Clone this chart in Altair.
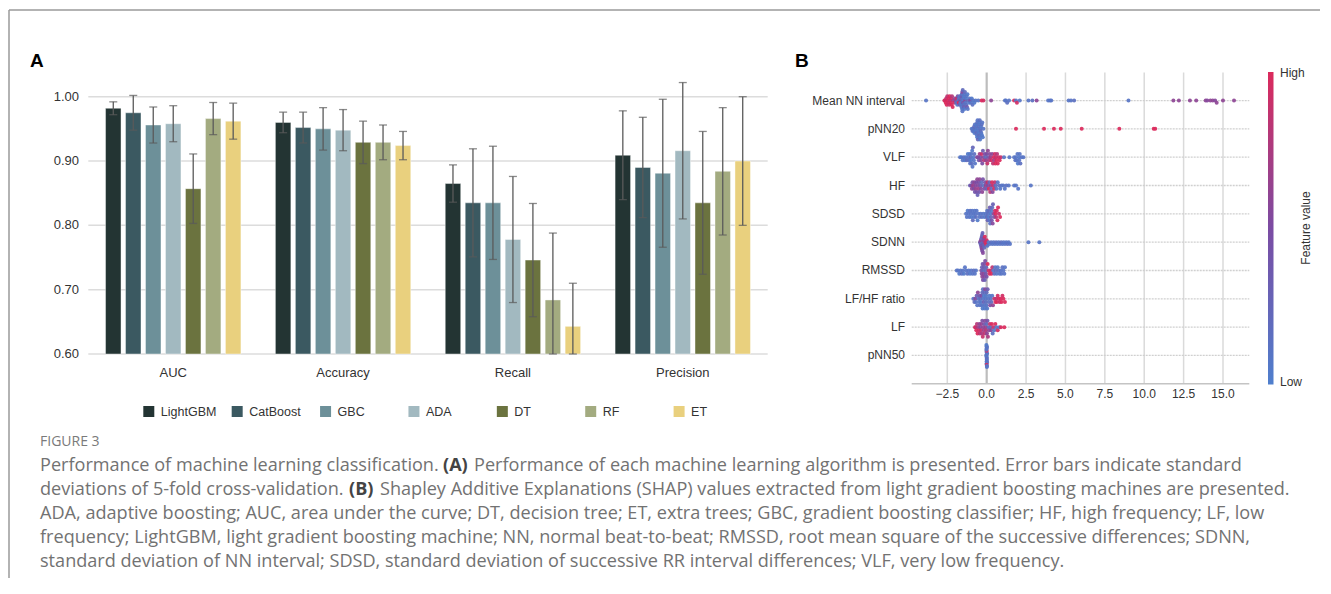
import altair as alt
import numpy as np
import pandas as pd

# ------------------------------------------------------------------ data A
metrics = ["AUC", "Accuracy", "Recall", "Precision"]
models = ["LightGBM", "CatBoost", "GBC", "ADA", "DT", "RF", "ET"]
model_colors = ["#233433", "#3b5961", "#6d9099", "#a2b9c0", "#6b733f", "#a3ab80", "#e9d07e"]

auc_mean = [0.982, 0.975, 0.956, 0.958, 0.857, 0.966, 0.962]
auc_sd = [0.010, 0.027, 0.028, 0.028, 0.054, 0.025, 0.028]
acc_mean = [0.960, 0.952, 0.950, 0.948, 0.929, 0.929, 0.924]
acc_sd = [0.016, 0.024, 0.033, 0.032, 0.033, 0.027, 0.022]
rec_mean = [0.865, 0.835, 0.835, 0.778, 0.746, 0.684, 0.643]
rec_sd = [0.029, 0.084, 0.088, 0.098, 0.088, 0.104, 0.067]
prec_mean = [0.909, 0.890, 0.881, 0.916, 0.835, 0.884, 0.900]
prec_sd = [0.069, 0.078, 0.115, 0.106, 0.111, 0.099, 0.100]
a_yticks = [0.60, 0.70, 0.80, 0.90, 1.00]

# ------------------------------------------------------------------ data B
features = ["Mean NN interval", "pNN20", "VLF", "HF", "SDSD",
            "SDNN", "RMSSD", "LF/HF ratio", "LF", "pNN50"]
b_xticks = [-2.5, 0.0, 2.5, 5.0, 7.5, 10.0, 12.5, 15.0]

# (SHAP value, normalised feature value)
mean_nn_interval = [
    (-3.85, 0.10),
    (-2.68, 1.0), (-2.64, 0.95), (-2.60, 1.0), (-2.57, 0.90), (-2.54, 1.0), (-2.50, 0.85), (-2.47, 1.0),
    (-2.44, 0.95), (-2.41, 1.0), (-2.38, 0.90), (-2.35, 1.0), (-2.32, 0.85), (-2.29, 1.0), (-2.26, 0.95),
    (-2.23, 1.0), (-2.20, 0.80), (-2.16, 1.0), (-2.12, 0.70), (-2.07, 0.95), (-2.02, 0.60),
    (-1.97, 0.55), (-1.94, 0.20), (-1.90, 0.90), (-1.87, 0.10), (-1.84, 0.45), (-1.80, 0.15), (-1.78, 1.0), (-1.75, 0.10),
    (-1.72, 0.30), (-1.70, 0.05), (-1.68, 0.50), (-1.66, 0.10), (-1.64, 0.20), (-1.62, 0.05), (-1.60, 0.35), (-1.60, 0.10),
    (-1.58, 0.15), (-1.56, 0.05), (-1.55, 0.55), (-1.54, 0.10), (-1.52, 0.20), (-1.50, 0.05), (-1.50, 0.40), (-1.48, 0.10),
    (-1.46, 0.15), (-1.45, 0.05), (-1.44, 0.30), (-1.42, 0.10), (-1.40, 0.05), (-1.38, 0.20), (-1.36, 0.60), (-1.35, 0.10),
    (-1.32, 0.05), (-1.30, 0.15), (-1.28, 0.10), (-1.25, 0.35), (-1.22, 0.05), (-1.20, 0.10), (-1.16, 0.20), (-1.12, 0.05),
    (-1.08, 0.10), (-1.04, 0.50), (-1.00, 0.10), (-0.95, 0.05), (-0.90, 0.15), (-0.85, 0.10), (-0.78, 0.05), (-0.70, 0.10),
    (-0.53, 0.10), (-0.32, 1.0), (-0.21, 0.95), (0.28, 0.60), (1.16, 0.10), (1.22, 0.10), (1.30, 0.15), (1.42, 0.10),
    (1.74, 1.0), (1.86, 0.10), (1.92, 0.95), (2.10, 0.10), (2.65, 0.10), (2.90, 0.15), (3.17, 0.60), (3.90, 0.10),
    (4.02, 0.10), (4.10, 0.10), (5.20, 0.10), (5.35, 0.10), (5.55, 0.15), (9.00, 0.10), (11.85, 0.60), (12.20, 0.60),
    (12.90, 0.60), (13.30, 0.60), (13.90, 0.60), (14.00, 0.55), (14.20, 0.60), (14.35, 0.60), (14.50, 0.55), (14.60, 0.60),
    (15.00, 0.60), (15.70, 0.60),
]
pnn20 = [
    (-0.95, 0.10), (-0.90, 0.15), (-0.86, 0.05), (-0.82, 0.10), (-0.80, 0.20), (-0.78, 0.05), (-0.75, 0.10), (-0.72, 0.15),
    (-0.70, 0.05), (-0.68, 0.10), (-0.66, 0.20), (-0.64, 0.05), (-0.62, 0.10), (-0.60, 0.15), (-0.60, 0.05), (-0.58, 0.10),
    (-0.56, 0.25), (-0.55, 0.05), (-0.54, 0.10), (-0.52, 0.15), (-0.50, 0.05), (-0.50, 0.10), (-0.48, 0.20), (-0.46, 0.05),
    (-0.45, 0.10), (-0.44, 0.15), (-0.42, 0.05), (-0.40, 0.10), (-0.38, 0.20), (-0.36, 0.05), (-0.34, 0.10), (-0.32, 0.15),
    (-0.30, 0.05), (-0.28, 0.10), (-0.25, 0.05), (-0.21, 0.10),
    (1.86, 1.0), (3.64, 1.0), (4.27, 1.0), (4.70, 1.0), (6.03, 1.0), (8.42, 1.0), (10.60, 1.0), (10.70, 1.0),
]
vlf = [
    (-1.69, 0.10), (-1.60, 0.05), (-1.52, 0.10), (-1.45, 0.15), (-1.38, 0.05), (-1.32, 0.10), (-1.26, 0.20), (-1.20, 0.05),
    (-1.16, 0.10), (-1.12, 0.15), (-1.08, 0.05), (-1.05, 0.10), (-1.02, 0.20), (-1.00, 0.05), (-0.98, 0.10), (-0.95, 0.15),
    (-0.92, 0.05), (-0.90, 0.10), (-0.88, 0.25), (-0.85, 0.05), (-0.82, 0.10), (-0.78, 0.15), (-0.74, 0.10),
    (-0.62, 0.45), (-0.55, 0.55), (-0.50, 0.40), (-0.45, 0.70), (-0.40, 0.50), (-0.36, 0.60), (-0.32, 0.90), (-0.28, 0.50),
    (-0.24, 0.35), (-0.20, 0.60), (-0.16, 0.80), (-0.12, 0.50), (-0.08, 0.20), (-0.04, 0.65), (0.00, 0.50), (0.04, 0.90),
    (0.08, 0.60), (0.12, 0.40), (0.16, 0.75), (0.20, 0.55), (0.25, 0.70), (0.30, 0.95), (0.35, 0.60), (0.40, 0.85),
    (0.45, 1.0), (0.48, 0.70), (0.52, 0.95), (0.55, 1.0), (0.58, 0.90), (0.62, 1.0), (0.66, 0.80), (0.70, 1.0),
    (0.76, 0.95), (0.82, 1.0), (0.90, 0.90),
    (1.10, 0.10), (1.44, 0.10), (1.74, 0.10), (1.82, 0.15), (1.85, 0.10), (1.90, 0.10), (1.95, 0.10), (1.98, 0.05),
    (2.05, 0.05), (2.06, 0.10), (2.10, 0.10), (2.14, 0.15), (2.22, 0.10), (2.33, 0.10),
]
hf = [
    (-1.06, 0.30), (-0.98, 0.50), (-0.94, 0.60), (-0.90, 0.45), (-0.86, 0.70), (-0.82, 0.50), (-0.78, 0.60), (-0.75, 0.40),
    (-0.72, 0.55), (-0.70, 0.65), (-0.66, 0.50), (-0.63, 0.45), (-0.60, 0.60), (-0.58, 0.30), (-0.55, 0.55), (-0.52, 0.70),
    (-0.50, 0.50), (-0.47, 0.40), (-0.44, 0.60), (-0.40, 0.35), (-0.36, 0.55), (-0.32, 0.20), (-0.28, 0.60), (-0.24, 0.45),
    (-0.20, 0.15), (-0.15, 0.50), (-0.10, 0.40), (-0.05, 0.65), (0.00, 0.30), (0.05, 0.90), (0.10, 0.50), (0.14, 1.0),
    (0.18, 0.25), (0.22, 0.80), (0.26, 0.60), (0.30, 0.20), (0.34, 1.0), (0.38, 0.55), (0.42, 0.90), (0.48, 1.0),
    (0.52, 0.85), (0.56, 0.20), (0.62, 0.10), (0.70, 0.10), (0.78, 0.15), (0.86, 0.10), (0.95, 0.10), (1.05, 0.10),
    (1.15, 0.10), (1.25, 0.15), (1.40, 0.10), (1.74, 0.10), (1.86, 0.10), (2.00, 0.10), (2.80, 0.10),
]
sdsd = [
    (-1.31, 0.10), (-1.26, 0.10), (-1.21, 0.05), (-1.15, 0.10), (-1.10, 0.10), (-1.05, 0.15), (-1.00, 0.10), (-0.96, 0.05),
    (-0.92, 0.10), (-0.88, 0.20), (-0.84, 0.10), (-0.80, 0.05), (-0.76, 0.10), (-0.72, 0.10), (-0.68, 0.15), (-0.64, 0.10),
    (-0.58, 0.05), (-0.52, 0.10), (-0.45, 0.10), (-0.38, 0.10), (-0.30, 0.15), (-0.22, 0.10), (-0.14, 0.05), (-0.06, 0.10),
    (0.00, 0.20), (0.03, 0.10), (0.06, 0.30), (0.09, 0.15), (0.12, 0.05), (0.15, 0.20), (0.18, 0.10), (0.20, 0.35),
    (0.22, 0.15), (0.25, 0.05), (0.27, 0.25), (0.30, 0.10), (0.32, 0.40), (0.35, 0.20), (0.38, 0.55), (0.40, 0.30),
    (0.44, 0.60), (0.48, 0.45),
    (0.52, 0.90), (0.56, 1.0), (0.60, 0.85), (0.64, 1.0), (0.68, 0.95), (0.72, 1.0), (0.78, 0.90), (0.85, 1.0),
]
sdnn = [
    (-0.42, 0.30), (-0.40, 0.55), (-0.39, 0.20), (-0.37, 0.60), (-0.36, 0.40), (-0.34, 0.25), (-0.33, 0.50), (-0.31, 0.35),
    (-0.30, 0.60), (-0.29, 0.20), (-0.27, 0.45), (-0.26, 0.30), (-0.24, 0.55), (-0.23, 0.20), (-0.21, 0.40), (-0.20, 0.60),
    (-0.18, 0.30), (-0.17, 0.50), (-0.15, 0.25), (-0.12, 1.0), (-0.08, 0.90), (-0.04, 1.0), (0.00, 0.95),
    (0.05, 0.10), (0.12, 0.10), (0.20, 0.10), (0.28, 0.15), (0.36, 0.10), (0.44, 0.10), (0.52, 0.10), (0.60, 0.15),
    (0.68, 0.10), (0.76, 0.10), (0.84, 0.10), (0.92, 0.15), (1.00, 0.10), (1.08, 0.10), (1.16, 0.10), (1.24, 0.10),
    (1.32, 0.15), (1.40, 0.10), (1.48, 0.10), (2.65, 0.10), (3.34, 0.10),
]
rmssd = [
    (-1.90, 0.10), (-1.82, 0.10), (-1.74, 0.05), (-1.66, 0.10), (-1.58, 0.15), (-1.50, 0.10), (-1.44, 0.05), (-1.38, 0.10),
    (-1.30, 0.10), (-1.22, 0.15), (-1.14, 0.10), (-1.06, 0.05), (-0.98, 0.10), (-0.90, 0.10), (-0.82, 0.15), (-0.75, 0.10),
    (-0.68, 0.10),
    (-0.34, 0.45), (-0.32, 0.55), (-0.30, 0.30), (-0.28, 0.60), (-0.26, 0.40), (-0.24, 0.50), (-0.22, 0.25), (-0.20, 0.60),
    (-0.18, 0.35), (-0.16, 0.55), (-0.14, 0.45), (-0.12, 0.30), (-0.10, 0.50), (-0.08, 0.20), (-0.06, 0.40), (-0.03, 0.25),
    (0.00, 0.45),
    (0.06, 1.0), (0.12, 0.90), (0.18, 1.0), (0.24, 0.95), (0.30, 1.0), (0.36, 0.85),
    (0.42, 0.10), (0.48, 0.15), (0.54, 0.10), (0.58, 0.20), (0.64, 0.10), (0.70, 0.10), (0.76, 0.15), (0.82, 0.10),
    (0.88, 0.10), (0.94, 0.10), (1.00, 0.15), (1.06, 0.10), (1.12, 0.10), (1.16, 0.10),
]
lf_hf_ratio = [
    (-0.85, 0.10), (-0.78, 0.20), (-0.72, 0.55), (-0.68, 0.10), (-0.64, 0.30), (-0.60, 0.10), (-0.56, 0.60), (-0.52, 0.15),
    (-0.48, 0.10), (-0.45, 0.40), (-0.42, 0.10), (-0.39, 0.20), (-0.36, 0.05), (-0.33, 0.50), (-0.30, 0.10), (-0.28, 0.20),
    (-0.26, 0.05), (-0.24, 0.15), (-0.22, 0.10), (-0.20, 0.30), (-0.18, 0.05), (-0.16, 0.10), (-0.14, 0.20), (-0.12, 0.05),
    (-0.10, 0.55), (-0.08, 0.10), (-0.06, 0.15), (-0.04, 0.05), (-0.02, 0.10), (0.00, 0.20), (0.03, 0.05), (0.06, 0.35),
    (0.10, 0.10), (0.14, 0.15), (0.18, 0.05), (0.22, 0.50), (0.26, 0.10), (0.30, 0.20), (0.35, 0.10), (0.40, 0.60),
    (0.48, 0.90), (0.55, 1.0), (0.60, 0.85), (0.65, 1.0), (0.70, 0.95), (0.76, 1.0), (0.82, 0.90), (0.88, 1.0),
    (0.94, 1.0), (1.00, 0.95), (1.06, 1.0), (1.16, 1.0),
]
lf = [
    (-0.74, 1.0), (-0.70, 0.90), (-0.66, 1.0), (-0.62, 0.80), (-0.58, 1.0), (-0.54, 0.70), (-0.50, 0.95), (-0.46, 0.60),
    (-0.43, 0.85), (-0.40, 0.55), (-0.37, 0.90), (-0.34, 0.65), (-0.31, 0.75), (-0.28, 0.50), (-0.25, 0.90), (-0.22, 0.60),
    (-0.19, 0.70), (-0.16, 0.45), (-0.13, 0.85), (-0.10, 0.55), (-0.07, 0.65), (-0.04, 0.80), (-0.01, 0.20), (0.02, 0.60),
    (0.05, 0.45), (0.08, 0.75), (0.12, 0.25), (0.16, 0.60), (0.20, 0.90), (0.24, 0.20), (0.28, 0.55), (0.33, 1.0),
    (0.38, 0.15), (0.43, 0.90), (0.48, 0.10), (0.55, 1.0), (0.62, 0.10), (0.70, 0.95), (0.80, 0.10), (0.90, 1.0),
    (1.12, 1.0),
]
pnn50 = [
    (-0.02, 0.10), (-0.01, 0.15), (0.00, 0.10), (0.01, 0.05), (0.02, 0.10), (0.00, 0.20), (-0.01, 0.10), (0.01, 0.15),
    (0.00, 1.0), (0.00, 0.05), (-0.02, 0.10), (0.02, 0.15), (0.00, 0.10), (-0.01, 0.05), (0.01, 0.10), (0.00, 0.95),
    (0.00, 0.15), (0.02, 0.10), (-0.02, 0.05), (0.01, 0.10),
]
shap_rows = [mean_nn_interval, pnn20, vlf, hf, sdsd, sdnn, rmssd, lf_hf_ratio, lf, pnn50]

caption_head = "FIGURE 3"
caption_lines = [
    ["Performance of machine learning classification.", "(A)",
     "Performance of each machine learning algorithm is presented. Error bars indicate standard"],
    ["deviations of 5-fold cross-validation.", "(B)",
     "Shapley Additive Explanations (SHAP) values extracted from light gradient boosting machines are presented."],
    ["ADA, adaptive boosting; AUC, area under the curve; DT, decision tree; ET, extra trees; GBC, gradient boosting classifier; HF, high frequency; LF, low"],
    ["frequency; LightGBM, light gradient boosting machine; NN, normal beat-to-beat; RMSSD, root mean square of the successive differences; SDNN,"],
    ["standard deviation of NN interval; SDSD, standard deviation of successive RR interval differences; VLF, very low frequency."],
]

# ------------------------------------------------------------------ layout (page pixels)
OFF = 8
FONT = "Liberation Sans, Arial, sans-serif"
CAP_FONT = "Open Sans, sans-serif"


def px(v):
    return v - OFF


one = pd.DataFrame({"d": [0]})
layers = []


def label(text, x, y, **kw):
    return alt.Chart(pd.DataFrame({"t": [text]})).mark_text(**kw).encode(
        text="t:N", x=alt.value(px(x)), y=alt.value(px(y)))


# frame
layers.append(alt.Chart(one).mark_rule(color="#9a9a9a", strokeWidth=1.5).encode(
    x=alt.value(px(9)), x2=alt.value(px(1331)), y=alt.value(px(10))))
layers.append(alt.Chart(one).mark_rule(color="#9a9a9a", strokeWidth=1.5).encode(
    x=alt.value(px(9)), y=alt.value(px(10)), y2=alt.value(px(600))))

# panel letters
layers.append(label("A", 30, 61, font=FONT, fontSize=19, fontWeight="bold",
                    align="left", baseline="middle", color="#000"))
layers.append(label("B", 795, 61, font=FONT, fontSize=19, fontWeight="bold",
                    align="left", baseline="middle", color="#000"))

# ------------------------------------------------------------------ panel A
rows = []
for met, means, sds in zip(metrics, [auc_mean, acc_mean, rec_mean, prec_mean],
                           [auc_sd, acc_sd, rec_sd, prec_sd]):
    for mod, mu, sd in zip(models, means, sds):
        rows.append({"metric": met, "model": mod, "mean": mu,
                     "lo": max(mu - sd, 0.60), "hi": mu + sd})
dfA = pd.DataFrame(rows)

xA = alt.Scale(type="band", domain=metrics, range=[px(88.3), px(767.7)], paddingInner=0, paddingOuter=0)
xoA = alt.Scale(type="band", domain=models, paddingInner=0.225, paddingOuter=0.8625)
yA = alt.Scale(type="linear", domain=[0.6, 1.0], range=[px(354), px(96.7)], zero=False, nice=False)
colA = alt.Scale(domain=models, range=model_colors)

XA = alt.X("metric:N", scale=xA, axis=None)
XOA = alt.XOffset("model:N", scale=xoA)

layers.append(alt.Chart(pd.DataFrame({"v": a_yticks})).mark_rule(color="#dcdcdc", strokeWidth=1.5).encode(
    y=alt.Y("v:Q", scale=yA, axis=None), x=alt.value(px(88.3)), x2=alt.value(px(767.7))))
layers.append(alt.Chart(pd.DataFrame({"v": a_yticks})).mark_text(
    font=FONT, fontSize=13, align="right", baseline="middle", color="#333").encode(
    y=alt.Y("v:Q", scale=yA, axis=None), x=alt.value(px(79)), text=alt.Text("v:Q", format=".2f")))
layers.append(alt.Chart(dfA).mark_bar(stroke="#ffffff", strokeWidth=0.6, strokeOpacity=0.7).encode(
    x=XA, xOffset=XOA, y=alt.Y("mean:Q", scale=yA, axis=None), y2=alt.datum(0.6),
    color=alt.Color("model:N", scale=colA, legend=None)))
layers.append(alt.Chart(dfA).mark_rule(color="#5a5a5a", strokeWidth=1.3).encode(
    x=XA, xOffset=XOA, y=alt.Y("lo:Q", scale=yA, axis=None), y2="hi:Q"))
for fld in ["lo", "hi"]:
    layers.append(alt.Chart(dfA).mark_tick(color="#5a5a5a", orient="horizontal", size=8, thickness=1.3).encode(
        x=XA, xOffset=XOA, y=alt.Y(f"{fld}:Q", scale=yA, axis=None)))
layers.append(alt.Chart(pd.DataFrame({"metric": metrics})).mark_text(
    font=FONT, fontSize=13, baseline="middle", color="#333").encode(
    x=XA, y=alt.value(px(372.5)), text="metric:N"))

# legend A
legX = alt.Scale(type="point", domain=models, range=[px(148.8), px(679.1)], padding=0)
dfL = pd.DataFrame({"model": models})
layers.append(alt.Chart(dfL).mark_square(size=121, opacity=1).encode(
    x=alt.X("model:N", scale=legX, axis=None), y=alt.value(px(411.5)),
    color=alt.Color("model:N", scale=colA, legend=None)))
layers.append(alt.Chart(dfL).mark_text(font=FONT, fontSize=12.5, align="left", baseline="middle",
                                       dx=12, color="#333").encode(
    x=alt.X("model:N", scale=legX, axis=None), y=alt.value(px(411.5)), text="model:N"))

# ------------------------------------------------------------------ panel B
xB = alt.Scale(domain=[-4.76, 16.67], range=[px(911.7), px(1249.3)], nice=False, zero=False)
yB = alt.Scale(domain=[0, 11], range=[px(72.2), px(383.8)], nice=False, zero=False)
B_TOP, B_BOT = 72.5, 383.7

layers.append(alt.Chart(pd.DataFrame({"t": [v for v in b_xticks if v != 0]})).mark_rule(
    color="#dadada", strokeWidth=1.5).encode(
    x=alt.X("t:Q", scale=xB, axis=None), y=alt.value(px(B_TOP)), y2=alt.value(px(B_BOT))))
layers.append(alt.Chart(pd.DataFrame({"r": list(range(1, len(features) + 1))})).mark_rule(
    color="#d0d0d0", strokeWidth=1.3, strokeDash=[2, 1]).encode(
    y=alt.Y("r:Q", scale=yB, axis=None), x=alt.value(px(911.7)), x2=alt.value(px(1249.3))))
layers.append(alt.Chart(pd.DataFrame({"t": [0.0]})).mark_rule(color="#bdbdbd", strokeWidth=2.2).encode(
    x=alt.X("t:Q", scale=xB, axis=None), y=alt.value(px(B_TOP)), y2=alt.value(px(B_BOT))))
layers.append(alt.Chart(one).mark_rule(color="#c4c4c4", strokeWidth=1.5).encode(
    x=alt.value(px(911.7)), x2=alt.value(px(1249.3)), y=alt.value(px(B_BOT))))
layers.append(alt.Chart(pd.DataFrame({"t": b_xticks})).mark_text(
    font=FONT, fontSize=12, baseline="middle", color="#333").encode(
    x=alt.X("t:Q", scale=xB, axis=None), y=alt.value(px(393.5)), text=alt.Text("t:Q", format=".1f")))
layers.append(alt.Chart(pd.DataFrame({"f": features, "r": list(range(1, len(features) + 1))})).mark_text(
    font=FONT, fontSize=12, align="right", baseline="middle", color="#333").encode(
    y=alt.Y("r:Q", scale=yB, axis=None), x=alt.value(px(905)), text="f:N"))


def swarm(vals, bin_w=0.16, row_h=0.5):
    s = np.asarray(vals, float)
    q = np.round(s / bin_w).astype(int)
    order = np.argsort(q, kind="stable")
    ys = np.zeros(len(s))
    layer, last = 0, None
    for i in order:
        if q[i] != last:
            layer = 0
        ys[i] = np.ceil(layer / 2) * ((layer % 2) * 2 - 1)
        layer += 1
        last = q[i]
    return ys * 0.9 * (row_h / (np.max(np.abs(ys)) + 1))


pts = []
for r, row in enumerate(shap_rows, start=1):
    sv = [p[0] for p in row]
    fv = [p[1] for p in row]
    offs = swarm(sv)
    for s, f, o in zip(sv, fv, offs):
        pts.append({"shap": s, "fv": f, "ypos": r + o})
dfB = pd.DataFrame(pts)
cB = alt.Scale(domain=[0, 0.5, 1], range=["#4f7fcd", "#7b4ca3", "#db2a5c"], interpolate="rgb")
layers.append(alt.Chart(dfB).mark_circle(size=16, opacity=0.92).encode(
    x=alt.X("shap:Q", scale=xB, axis=None), y=alt.Y("ypos:Q", scale=yB, axis=None),
    color=alt.Color("fv:Q", scale=cB, legend=None)))

# colour bar
grad = alt.LinearGradient(gradient="linear", x1=0, x2=0, y1=0, y2=1,
                          stops=[alt.GradientStop(color="#db2a5c", offset=0),
                                 alt.GradientStop(color="#7b4ca3", offset=0.5),
                                 alt.GradientStop(color="#4f7fcd", offset=1)])
layers.append(alt.Chart(one).mark_rect(color=grad).encode(
    x=alt.value(px(1268)), x2=alt.value(px(1273.5)), y=alt.value(px(72)), y2=alt.value(px(384.5))))
layers.append(label("High", 1280, 73, font=FONT, fontSize=12, align="left", baseline="middle", color="#333"))
layers.append(label("Low", 1280, 382, font=FONT, fontSize=12, align="left", baseline="middle", color="#333"))
layers.append(label("Feature value", 1306, 228, font=FONT, fontSize=12, align="center", baseline="middle",
                    angle=270, color="#333"))

# ------------------------------------------------------------------ caption
CAP_SIZE = 18.1
CAP_COL = "#727272"
layers.append(label(caption_head, 40, 442, font=CAP_FONT, fontSize=14, align="left", baseline="middle",
                    color="#7a7a7a"))
line_y = [466, 490, 514, 538, 562]
seg_x = {0: [40, 443, 474], 1: [40, 349, 380]}
for i, segs in enumerate(caption_lines):
    xs = seg_x.get(i, [40])
    for j, seg in enumerate(segs):
        bold = (len(segs) == 3 and j == 1)
        layers.append(label(seg, xs[j], line_y[i], font=CAP_FONT, fontSize=CAP_SIZE, align="left",
                            baseline="middle", color="#444444" if bold else CAP_COL,
                            fontWeight="bold" if bold else "normal"))

chart = alt.layer(*layers).resolve_scale(
    x="independent", y="independent", color="independent", xOffset="independent"
).properties(
    width=1312, height=570, padding=0, autosize=alt.AutoSizeParams(type="none"), background="white"
).configure_view(stroke=None)

chart.save("out.html", embed_options={"renderer": "svg", "actions": False})
